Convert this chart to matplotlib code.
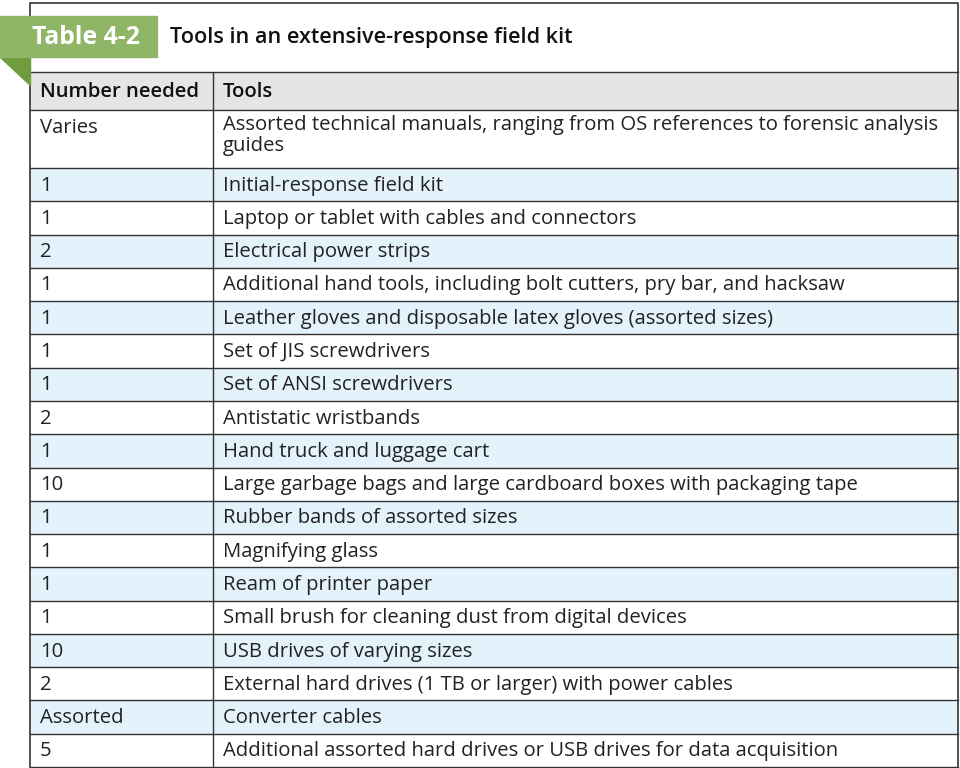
import matplotlib.pyplot as plt
from matplotlib.patches import Rectangle, Polygon

plt.rcParams['font.family'] = ['Open Sans', 'DejaVu Sans']

title_tag = "Table 4-2"
title = "Tools in an extensive-response field kit"
col_headers = ["Number needed", "Tools"]
numbers = ["Varies", "1", "1", "2", "1", "1", "1", "1", "2", "1", "10", "1",
           "1", "1", "1", "10", "2", "Assorted", "5"]
tools = [
    "Assorted technical manuals, ranging from OS references to forensic analysis\nguides",
    "Initial-response field kit",
    "Laptop or tablet with cables and connectors",
    "Electrical power strips",
    "Additional hand tools, including bolt cutters, pry bar, and hacksaw",
    "Leather gloves and disposable latex gloves (assorted sizes)",
    "Set of JIS screwdrivers",
    "Set of ANSI screwdrivers",
    "Antistatic wristbands",
    "Hand truck and luggage cart",
    "Large garbage bags and large cardboard boxes with packaging tape",
    "Rubber bands of assorted sizes",
    "Magnifying glass",
    "Ream of printer paper",
    "Small brush for cleaning dust from digital devices",
    "USB drives of varying sizes",
    "External hard drives (1 TB or larger) with power cables",
    "Converter cables",
    "Additional assorted hard drives or USB drives for data acquisition",
]

fig = plt.figure(figsize=(9.6, 7.68), dpi=100)
ax = fig.add_axes([0, 0, 1, 1])
ax.set_xlim(0, 960)
ax.set_ylim(768, 0)
ax.axis('off')

left, right, split = 30, 958, 213
line = '#333333'
fs = 14.6

# outer frame top part
ax.plot([left, left, right, right], [72, 3, 3, 72], color=line, lw=1.2)

# green tab
ax.add_patch(Polygon([[0, 57], [30, 57], [30, 85]], closed=True, color='#6f9c3d', zorder=3))
ax.add_patch(Rectangle((0, 16), 157, 41, color='#8fb566', zorder=3))
ax.text(86, 37, title_tag, color='white', fontsize=17.8, fontweight='bold',
        ha='center', va='center', zorder=4)
ax.text(170, 38, title, color='#111111', fontsize=15.6, fontweight='semibold',
        ha='left', va='center')

# header row
ax.add_patch(Rectangle((left, 72), right - left, 38, facecolor='#e5e5e5', edgecolor='none'))
ax.text(left + 10, 92, col_headers[0], fontsize=fs, fontweight='semibold', va='center', color='#111111')
ax.text(split + 10, 92, col_headers[1], fontsize=fs, fontweight='semibold', va='center', color='#111111')

# body rows
tops = [110, 168]
row_h = (767 - 168) / (len(numbers) - 1)
for i in range(2, len(numbers) + 1):
    tops.append(168 + (i - 1) * row_h)
for i, (n, t) in enumerate(zip(numbers, tools)):
    y0, y1 = tops[i], tops[i + 1]
    if i % 2 == 1:
        ax.add_patch(Rectangle((left, y0), right - left, y1 - y0, facecolor='#e3f2fb', edgecolor='none'))
    if '\n' in t:
        ax.text(left + 10, y0 + 18, n, fontsize=fs, va='center', color='#222222')
        ax.text(split + 10, y0 + 5, t, fontsize=fs, va='top', color='#222222', linespacing=1.05)
    else:
        ax.text(left + 10, (y0 + y1) / 2 + 1, n, fontsize=fs, va='center', color='#222222')
        ax.text(split + 10, (y0 + y1) / 2 + 1, t, fontsize=fs, va='center', color='#222222')

for y in [72, 110] + tops[1:]:
    ax.plot([left, right], [y, y], color=line, lw=1.0)
ax.plot([left, left], [72, 767], color=line, lw=1.2)
ax.plot([right, right], [72, 767], color=line, lw=1.2)
ax.plot([split, split], [72, 767], color=line, lw=1.0)

fig.savefig('out.png', dpi=100)
